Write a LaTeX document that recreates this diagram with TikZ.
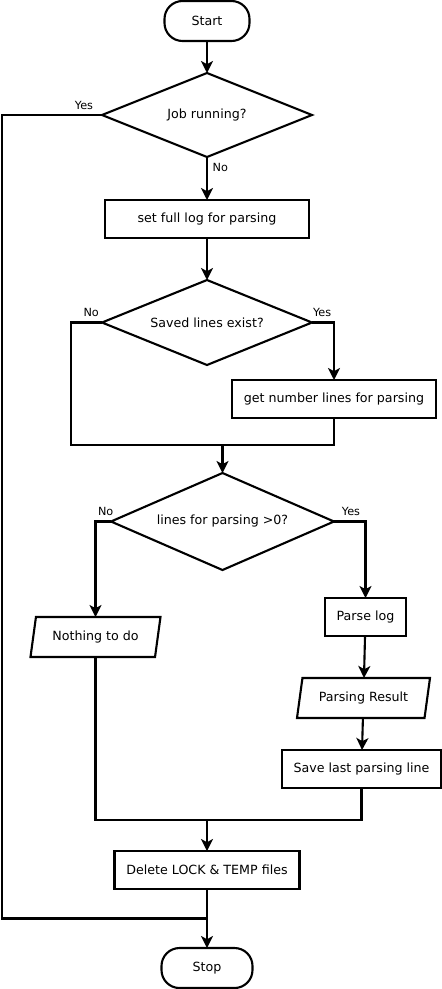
\documentclass[tikz,border=0pt]{standalone}
\usepackage{fontspec}
\setmainfont{DejaVu Sans}
\usetikzlibrary{arrows.meta, positioning, shapes.geometric, calc}

\begin{document}
\begin{tikzpicture}[
    line width=1.5pt,
    box/.style={draw, rectangle, minimum height=0.95cm, outer sep=0pt, font=\small},
    dec/.style={draw, diamond, shape aspect=2.5, inner sep=0pt, outer sep=0pt, font=\small},
    io/.style={draw, trapezium, trapezium left angle=73, trapezium right angle=107,
      trapezium stretches body, minimum height=1cm, inner sep=2pt, outer sep=0pt, font=\small},
    term/.style={draw, rectangle, rounded corners=0.45cm, minimum height=1cm, outer sep=0pt, font=\small},
    arr/.style={-{Stealth[length=0.3cm, width=0.3cm, inset=0.08cm]}},
    lbl/.style={font=\footnotesize}
  ]
    \useasboundingbox (0,0) rectangle (11.05,-24.725);

    \node[term, minimum width=2.125cm] (start) at (5.175,-0.525) {Start};
    \node[dec, minimum width=5.25cm, minimum height=2.1cm, below=0.8cm of start] (job) {Job running?};
    \node[box, minimum width=5.1cm, below=1.075cm of job] (setlog) {set full log for parsing};
    \node[dec, minimum width=5.25cm, minimum height=2.125cm, below=1.05cm of setlog] (saved) {Saved lines exist?};
    \node[box, minimum width=5.1cm, below=0.375cm of saved, xshift=3.175cm] (getnum) {get number lines for parsing};
    \node[dec, minimum width=5.575cm, minimum height=2.425cm, below=2.7cm of saved, xshift=0.3875cm] (check) {lines for parsing >0?};
    \node[io, minimum width=3.25cm, below=1.175cm of check, xshift=-3.175cm] (nothing) {Nothing to do};
    \node[box, minimum width=2.025cm, below=0.7cm of check, xshift=3.575cm] (parse) {Parse log};
    \node[io, minimum width=3.325cm, below=1.05cm of parse, xshift=-0.05cm] (result) {Parsing Result};
    \node[box, minimum width=3.975cm, below=0.8cm of result, xshift=-0.05cm] (save) {Save last parsing line};
    \node[box, minimum width=4.625cm, below=1.575cm of save, xshift=-3.8625cm] (delete) {Delete LOCK \& TEMP files};
    \node[term, minimum width=2.275cm, below=1.475cm of delete] (stop) {Stop};

    \coordinate (join1) at ($(check.north)+(0,0.7)$);
    \coordinate (join2) at ($(delete.north)+(0,0.775)$);
    \coordinate (yesend) at ($(delete.south)!0.5!(stop.north)$);

    \draw[arr] (start) -- (job);
    \draw (job.west) -- node[lbl, above, pos=0.18]{Yes} ++(-2.5,0) |- (yesend);
    \draw[arr] (job) -- node[lbl, right, pos=0.25]{No} (setlog);
    \draw[arr] (setlog) -- (saved);
    \draw[arr] (saved.east) -| node[lbl, above, pos=0.23]{Yes} (getnum.north);
    \draw (saved.west) -- node[lbl, above, pos=0.35]{No} ++(-0.775,0) |- (join1 -| getnum.south) -- (getnum.south);
    \draw[arr] (join1) -- (check.north);
    \draw[arr] (check.west) -| node[lbl, above, pos=0.17]{No} (nothing.north);
    \draw[arr] (check.east) -| node[lbl, above, pos=0.27]{Yes} (parse.north);
    \draw[arr] (parse) -- (result);
    \draw[arr] (result) -- (save);
    \draw (nothing.south) |- (join2 -| save.south) -- (save.south);
    \draw[arr] (join2) -- (delete);
    \draw[arr] (delete) -- (stop);
  \end{tikzpicture}
\end{document}
